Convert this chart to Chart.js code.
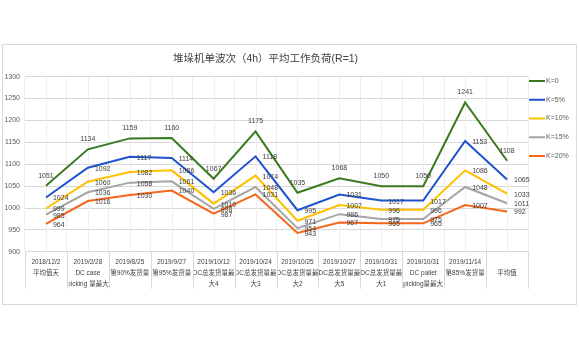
<!DOCTYPE html>
<html>
<head>
<meta charset="utf-8">
<script src="https://cdn.jsdelivr.net/npm/chart.js@4/dist/chart.umd.min.js"></script>
<style>
  body { margin: 0; background: #fff; }
  #caja {
    position: absolute; left: 2px; top: 44px;
    width: 575px; height: 261px;
    border: 1px solid #d9d9d9; box-sizing: border-box;
  }
</style>
</head>
<body>
<div id="caja"><canvas id="chart-linea"></canvas></div>
<script>
// datos del grafico
const categorias = [
  ["2018/12/2", "平均值天"],
  ["2019/2/28", "DC case", "picking 量最大"],
  ["2019/8/25", "第90%发货量"],
  ["2019/9/27", "第95%发货量"],
  ["2019/10/12", "DC总发货量最", "大4"],
  ["2019/10/24", "DC总发货量最", "大3"],
  ["2019/10/25", "DC总发货量最", "大2"],
  ["2019/10/27", "DC总发货量最", "大5"],
  ["2019/10/31", "DC总发货量最", "大1"],
  ["2019/10/31", "DC pallet", "picking量最大"],
  ["2019/11/14", "第85%发货量"],
  ["", "平均值"],
];
const series = ["K=0", "K=5%", "K=10%", "K=15%", "K=20%"];
const k0 = [1051, 1134, 1159, 1160, 1067, 1175, 1035, 1068, 1050, 1050, 1241, 1108];
const k5 = [1024, 1092, 1117, 1114, 1036, 1118, 995, 1031, 1017, 1017, 1153, 1065];
const k10 = [999, 1060, 1082, 1086, 1010, 1074, 971, 1007, 996, 996, 1086, 1033];
const k15 = [985, 1036, 1058, 1061, 998, 1048, 954, 986, 975, 975, 1048, 1011];
const k20 = [964, 1016, 1030, 1040, 987, 1031, 943, 967, 965, 965, 1007, 992];
const ejeY = [900, 1300, 50]; // min, max, paso

const colores = ["#3a7a1e", "#1f52cf", "#ffc000", "#a5a5a5", "#f5661a"];
const fuente = "'Liberation Sans', 'Noto Sans CJK SC', sans-serif";

const valores = [k0, k5, k10, k15, k20];
const dataChart = {
  labels: categorias,
  datasets: series.map((nombre, i) => ({
    label: nombre,
    data: valores[i],
    borderColor: colores[i],
    backgroundColor: colores[i],
    borderWidth: 2,
    pointRadius: 0,
    tension: 0,
  })),
};

// etiquetas de los puntos
const etiquetas = {
  id: "etiquetas",
  afterDatasetsDraw(chart) {
    const ctx = chart.ctx;
    ctx.save();
    ctx.font = "7px " + fuente;
    ctx.fillStyle = "#404040";
    ctx.textBaseline = "middle";
    chart.data.datasets.forEach((ds, i) => {
      const meta = chart.getDatasetMeta(i);
      meta.data.forEach((p, j) => {
        if (i === 0) {
          ctx.textAlign = "center";
          ctx.fillText(ds.data[j], p.x, p.y - 10);
        } else {
          ctx.textAlign = "left";
          ctx.fillText(ds.data[j], p.x + 7, p.y + 1);
        }
      });
    });
    ctx.restore();
  },
};

// lineas verticales (centro de categoria y separadores debajo del eje) + leyenda
const extras = {
  id: "extras",
  beforeDatasetsDraw(chart) {
    const ctx = chart.ctx;
    const x = chart.scales.x;
    const area = chart.chartArea;
    const n = chart.data.labels.length;
    ctx.save();
    ctx.lineWidth = 1;
    ctx.strokeStyle = "#eeeeee";
    for (let i = 0; i < n; i++) {
      const px = Math.round(x.getPixelForValue(i)) + 0.5;
      ctx.beginPath();
      ctx.moveTo(px, area.top);
      ctx.lineTo(px, area.bottom);
      ctx.stroke();
    }
    ctx.strokeStyle = "#d9d9d9";
    const paso = x.getPixelForValue(1) - x.getPixelForValue(0);
    for (let i = 0; i <= n; i++) {
      const px = Math.round(x.getPixelForValue(i) - paso / 2) + 0.5;
      ctx.beginPath();
      ctx.moveTo(px, area.bottom);
      ctx.lineTo(px, area.bottom + 37);
      ctx.stroke();
    }
    ctx.restore();
  },
  afterDraw(chart) {
    const ctx = chart.ctx;
    const x0 = chart.chartArea.right + 1;
    ctx.save();
    ctx.font = "7px " + fuente;
    ctx.textBaseline = "middle";
    ctx.textAlign = "left";
    chart.data.datasets.forEach((ds, i) => {
      const y = 36 + i * 18.75;
      ctx.strokeStyle = ds.borderColor;
      ctx.lineWidth = 2;
      ctx.beginPath();
      ctx.moveTo(x0, y);
      ctx.lineTo(x0 + 16, y);
      ctx.stroke();
      ctx.fillStyle = "#595959";
      ctx.fillText(ds.label, x0 + 17, y);
    });
    ctx.restore();
  },
};

const configuracion = {
  type: "line",
  data: dataChart,
  options: {
    responsive: true,
    maintainAspectRatio: false,
    animation: false,
    layout: { padding: { left: 0, right: 48, top: 0, bottom: 9 } },
    plugins: {
      legend: { display: false },
      tooltip: { enabled: false },
      title: {
        display: true,
        text: "堆垛机单波次（4h）平均工作负荷(R=1)",
        color: "#404040",
        font: { family: fuente, size: 10.5, weight: "normal" },
        padding: { top: 8, bottom: 11 },
      },
    },
    scales: {
      x: {
        offset: true,
        grid: { offset: true, color: "#eeeeee", drawTicks: false },
        border: { color: "#d9d9d9" },
        ticks: {
          autoSkip: false,
          maxRotation: 0,
          padding: 5,
          color: "#404040",
          font: { family: fuente, size: 6.5, lineHeight: 1.7 },
        },
      },
      y: {
        min: ejeY[0],
        max: ejeY[1],
        afterFit(scale) { scale.width = 22; },
        grid: { color: "#d9d9d9", drawTicks: false },
        border: { display: false },
        ticks: {
          stepSize: ejeY[2],
          padding: 5,
          color: "#595959",
          font: { family: fuente, size: 7 },
          callback: (v) => String(v),
        },
      },
    },
  },
  plugins: [etiquetas, extras],
};

const chartLinea = new Chart(document.querySelector("#chart-linea").getContext("2d"), configuracion);
</script>
</body>
</html>
